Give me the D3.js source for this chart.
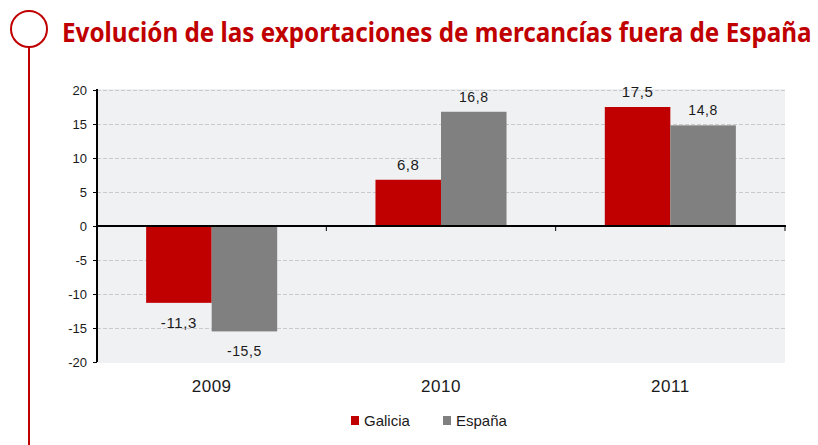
<!DOCTYPE html>
<html>
<head>
<meta charset="utf-8">
<script src="https://cdn.jsdelivr.net/npm/d3@7"></script>
<style>
  body { margin: 0; background: #fff; }
  svg { display: block; }
</style>
</head>
<body>
<div id="vis"></div>
<script>
// chart data
var years = ['2009', '2010', '2011'];
var series = ['Galicia', 'España'];
var galicia = [-11.3, 6.8, 17.5];
var espana = [-15.5, 16.8, 14.8];
var yTicks = [-20, -15, -10, -5, 0, 5, 10, 15, 20];
var colors = ['#c00000', '#808080'];

var width = 818, height = 445;
var margin = { top: 90, left: 97, bottom: 83, right: 33 };
var font = 'Liberation Sans, Arial, sans-serif';

var svg = d3.select('#vis').append('svg')
  .attr('width', width)
  .attr('height', height);

// title decoration: circle + vertical line
svg.append('circle')
  .attr('cx', 29).attr('cy', 29).attr('r', 18)
  .attr('fill', 'none').attr('stroke', '#c00000').attr('stroke-width', 2);
svg.append('line')
  .attr('x1', 29).attr('x2', 29).attr('y1', 47).attr('y2', height)
  .attr('stroke', '#c00000').attr('stroke-width', 2);

// title, squeezed horizontally to mimic the condensed face
var title = svg.append('text')
  .attr('font-family', 'Noto Sans, sans-serif')
  .attr('font-weight', 'bold')
  .attr('font-size', 26)
  .attr('fill', '#c00000')
  .text('Evolución de las exportaciones de mercancías fuera de España');
var tw = title.node().getComputedTextLength();
title.attr('transform', 'translate(62,42) scale(' + (750 / tw) + ',1)');

var x = d3.scaleBand()
  .domain(years)
  .range([margin.left, width - margin.right]);

var x1 = d3.scaleBand()
  .domain(series)
  .range([0, x.bandwidth()])
  .paddingOuter(0.75)
  .paddingInner(0);

var y = d3.scaleLinear()
  .domain([-20, 20])
  .range([height - margin.bottom, margin.top]);

// comma decimal, hyphen minus
var fmt = function (v) { return d3.format('.1f')(v).replace('.', ',').replace('\u2212', '-'); };

// plot background
svg.append('rect')
  .attr('x', margin.left + 1)
  .attr('y', y(20) - 1)
  .attr('width', width - margin.right - margin.left - 1)
  .attr('height', y(-20) - y(20) + 2)
  .attr('fill', '#f0f1f3');

// gridlines
svg.append('g')
  .selectAll('line')
  .data(yTicks.filter(function (d) { return d !== 0 && d !== -20; }))
  .enter().append('line')
  .attr('x1', margin.left)
  .attr('x2', width - margin.right)
  .attr('y1', function (d) { return Math.round(y(d)) + 0.5; })
  .attr('y2', function (d) { return Math.round(y(d)) + 0.5; })
  .attr('stroke', '#c9cacd')
  .attr('stroke-dasharray', '4,2');

// bars
var rows = years.map(function (yr, i) {
  return { year: yr, values: [galicia[i], espana[i]] };
});

var groups = svg.append('g')
  .selectAll('g')
  .data(rows)
  .enter().append('g')
  .attr('transform', function (d) { return 'translate(' + x(d.year) + ',0)'; });

var cells = function (d) {
  return d.values.map(function (v, j) { return { s: series[j], v: v, j: j }; });
};

groups.selectAll('rect')
  .data(cells)
  .enter().append('rect')
  .attr('x', function (d) { return x1(d.s); })
  .attr('width', x1.bandwidth())
  .attr('y', function (d) { return y(Math.max(0, d.v)); })
  .attr('height', function (d) { return Math.abs(y(d.v) - y(0)); })
  .attr('fill', function (d) { return colors[d.j]; });

// value labels
groups.selectAll('text')
  .data(cells)
  .enter().append('text')
  .attr('x', function (d) { return x1(d.s) + x1.bandwidth() / 2; })
  .attr('y', function (d) { return d.v >= 0 ? y(d.v) - 10 : y(d.v) + 25; })
  .attr('text-anchor', 'middle')
  .attr('font-family', font)
  .attr('font-size', function (d) { return d.j === 0 ? 15 : 14; })
  .attr('letter-spacing', 0.6)
  .attr('fill', '#1a1a1a')
  .text(function (d) { return fmt(d.v); });

// y axis
var yAxis = svg.append('g')
  .attr('transform', 'translate(' + margin.left + ',0)')
  .call(d3.axisLeft(y).tickValues(yTicks).tickSize(4).tickPadding(6).tickFormat(function (d) { return String(d); }));
yAxis.select('.domain').attr('stroke', '#000').attr('stroke-width', 2)
  .attr('d', 'M0,' + (y(20) - 1) + 'V' + y(-20));
yAxis.selectAll('.tick line').attr('stroke', '#000');
yAxis.selectAll('text')
  .attr('font-family', font)
  .attr('font-size', 13)
  .attr('fill', '#1a1a1a');

// x axis at zero
svg.append('line')
  .attr('x1', margin.left)
  .attr('x2', width - margin.right + 1)
  .attr('y1', y(0)).attr('y2', y(0))
  .attr('stroke', '#000').attr('stroke-width', 2);

svg.append('g')
  .selectAll('line')
  .data(years)
  .enter().append('line')
  .attr('x1', function (d) { return x(d) + x.bandwidth(); })
  .attr('x2', function (d) { return x(d) + x.bandwidth(); })
  .attr('y1', y(0)).attr('y2', y(0) + 5)
  .attr('stroke', '#000').attr('stroke-width', 1);

// category labels
svg.append('g')
  .selectAll('text')
  .data(years)
  .enter().append('text')
  .attr('x', function (d) { return x(d) + x.bandwidth() / 2; })
  .attr('y', 392)
  .attr('text-anchor', 'middle')
  .attr('font-family', font)
  .attr('font-size', 17)
  .attr('letter-spacing', 0.5)
  .attr('fill', '#1a1a1a')
  .text(function (d) { return d; });

// legend
var legendX = [351, 443];
var legend = svg.append('g')
  .selectAll('g')
  .data(series)
  .enter().append('g')
  .attr('transform', function (d, i) { return 'translate(' + legendX[i] + ',416)'; });

legend.append('rect')
  .attr('width', 8).attr('height', 9)
  .attr('fill', function (d, i) { return colors[i]; });

legend.append('text')
  .attr('x', 13).attr('y', 10)
  .attr('font-family', font)
  .attr('font-size', 15)
  .attr('fill', '#1a1a1a')
  .text(function (d) { return d; });
</script>
</body>
</html>
